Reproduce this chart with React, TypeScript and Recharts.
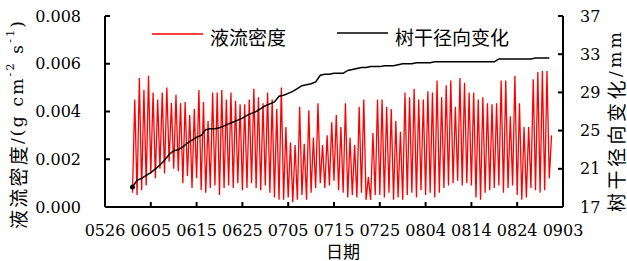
import { LineChart, Line, XAxis, YAxis, Legend } from "recharts";

// day 0 = 0526; the records begin on 0601
const firstDay = 6;

// daily peak of sap flow density (10^-3 g cm-2 s-1), 0601 -> 0831
const sapPeak = [
  4.5, 5.4, 4.9, 5.5, 4.8, 4.5, 4.8, 5.0, 4.35, 4.7,
  4.35, 4.4, 3.85, 4.1, 4.9, 4.4, 3.6, 4.8, 4.8, 4.9,
  4.5, 4.8, 4.45, 4.3, 4.3, 4.5, 4.95, 4.6, 4.35, 4.8,
  4.5, 4.1, 5.0, 3.35, 2.7, 2.6, 4.2, 2.65, 4.05, 2.9,
  4.35, 2.6, 3.0, 3.55, 3.85, 3.35, 4.35, 2.9, 2.6, 4.2,
  4.5, 1.25, 3.1, 4.5, 4.5, 4.2, 4.1, 3.6, 3.15, 4.8,
  4.6, 4.95, 4.5, 4.5, 4.85, 4.8, 5.3, 4.6, 5.1, 5.3,
  4.2, 5.4, 5.2, 4.8, 4.8, 4.5, 4.6, 4.35, 4.3, 4.35,
  5.3, 5.3, 3.8, 5.5, 4.35, 3.35, 3.35, 5.35, 5.65, 5.7,
  5.7, 3.0,
];

// night-time low of sap flow density (10^-3 g cm-2 s-1)
const sapLow = [
  0.6, 0.5, 0.7, 0.9, 1.4, 1.2, 1.6, 1.4, 1.9, 1.6,
  1.5, 1.0, 1.3, 0.8, 1.2, 0.7, 0.6, 0.8, 0.9, 0.5,
  0.8, 0.9, 0.8, 1.0, 0.7, 0.8, 1.0, 0.8, 0.7, 0.9,
  0.6, 0.4, 0.3, 0.3, 0.4, 0.2, 0.3, 0.5, 0.3, 0.6,
  0.8, 1.0, 0.8, 0.9, 1.1, 0.7, 0.6, 0.4, 0.5, 0.4,
  0.6, 0.3, 0.3, 0.5, 0.5, 0.4, 0.6, 0.3, 0.4, 0.3,
  0.5, 0.6, 0.4, 0.7, 0.5, 0.6, 0.4, 0.6, 0.8, 0.9,
  1.0, 1.1, 0.9, 1.0, 0.9, 0.4, 0.3, 0.6, 0.7, 0.8,
  0.9, 0.6, 0.8, 0.9, 0.5, 0.3, 0.4, 0.8, 0.7, 0.6,
  0.7, 1.2,
];

// stem radial change (mm), one value per day
const stemChange = [
  19.1, 19.8, 20.0, 20.3, 20.6, 21.0, 21.4, 21.9, 22.5, 22.9,
  23.0, 23.3, 23.7, 24.0, 24.3, 24.5, 25.1, 25.2, 25.2, 25.3,
  25.5, 25.7, 25.9, 26.1, 26.3, 26.6, 26.8, 27.0, 27.3, 27.6,
  27.8, 28.0, 28.6, 28.7, 28.9, 29.1, 29.4, 29.7, 29.8, 29.9,
  30.1, 30.8, 30.9, 30.9, 31.0, 31.0, 31.0, 31.3, 31.4, 31.5,
  31.6, 31.6, 31.7, 31.7, 31.7, 31.8, 31.8, 31.8, 31.9, 32.0,
  32.0, 32.0, 32.1, 32.1, 32.1, 32.1, 32.2, 32.2, 32.2, 32.2,
  32.2, 32.2, 32.2, 32.2, 32.2, 32.2, 32.2, 32.2, 32.2, 32.2,
  32.5, 32.5, 32.5, 32.5, 32.5, 32.5, 32.5, 32.5, 32.6, 32.6,
  32.6, 32.6,
];

const xTicks = [0, 10, 20, 30, 40, 50, 60, 70, 80, 90, 100];
const xTickLabels = ["0526", "0605", "0615", "0625", "0705", "0715", "0725", "0804", "0814", "0824", "0903"];
const sapTicks = [0, 0.002, 0.004, 0.006, 0.008];
const stemTicks = [17, 21, 25, 29, 33, 37];

const sapData = sapPeak.flatMap((p, i) => [
  { day: firstDay + i, sap: sapLow[i] / 1000 },
  { day: firstDay + i + 0.5, sap: p / 1000 },
]);
const stemData = stemChange.map((v, i) => ({ day: firstDay + i, stem: v }));

// only the plain family name resolves to a serif face in the sandbox
const serif = "DejaVu Serif";
const cjk = "Noto Sans CJK SC";
const axisStyle = { stroke: "#000", strokeWidth: 2 };

// custom tick so the serif face is set directly on the <text>
const SerifTick = ({ x, y, payload, anchor, fmt }: any) => (
  <text
    x={x}
    y={y}
    textAnchor={anchor}
    dominantBaseline={anchor === "middle" ? "auto" : "central"}
    fontSize={16}
    fill="#000"
    fontFamily={serif}
    style={{ fontFamily: serif }}
  >
    {fmt ? fmt(payload.value) : payload.value}
  </text>
);

const SapTitle = () => (
  <text
    transform="translate(17,125) rotate(-90)"
    textAnchor="middle"
    dominantBaseline="central"
    fontSize={17}
    fill="#000"
    fontFamily={serif}
    style={{ fontFamily: serif }}
    textLength={208}
    lengthAdjust="spacing"
  >
    <tspan style={{ fontFamily: cjk }} fontSize={19}>液流密度</tspan>
    <tspan>/(g cm</tspan>
    <tspan fontSize={11} dy={-7}>-2</tspan>
    <tspan dy={7}>{"\u00a0s"}</tspan>
    <tspan fontSize={11} dy={-7}>-1</tspan>
    <tspan dy={7}>)</tspan>
  </text>
);

const StemTitle = () => (
  <text
    transform="translate(615,122) rotate(-90)"
    textAnchor="middle"
    dominantBaseline="central"
    fontSize={19}
    fill="#000"
    style={{ fontFamily: cjk }}
    textLength={180}
    lengthAdjust="spacing"
  >
    树干径向变化<tspan style={{ fontFamily: serif }} fontSize={17}>/mm</tspan>
  </text>
);

const DateTitle = () => (
  <text x={343} y={250} textAnchor="middle" dominantBaseline="central" fontSize={17} fill="#000" style={{ fontFamily: cjk }}>
    日期
  </text>
);

const LegendBox = () => (
  <svg width={627} height={60} style={{ display: "block" }}>
    <line x1={152} x2={203} y1={34} y2={34} stroke="#ff0000" strokeWidth={1.5} />
    <text x={210} y={36} dominantBaseline="central" fontSize={19} style={{ fontFamily: cjk }} fill="#000">液流密度</text>
    <line x1={337} x2={388} y1={33} y2={33} stroke="#000" strokeWidth={1.5} />
    <text x={395} y={36} dominantBaseline="central" fontSize={19} style={{ fontFamily: cjk }} fill="#000">树干径向变化</text>
  </svg>
);

export default function App() {
  return (
    <div style={{ position: "absolute", left: 0, top: 0, width: 627, height: 261, background: "#fff" }}>
      <LineChart width={627} height={261} margin={{ top: 16, right: 24, bottom: 24, left: 45 }}>
        <XAxis
          type="number"
          dataKey="day"
          domain={[0, 100]}
          ticks={xTicks}
          allowDataOverflow
          height={30}
          tickSize={-5}
          tickMargin={34}
          tick={<SerifTick anchor="middle" fmt={(v: number) => xTickLabels[xTicks.indexOf(v)]} />}
          axisLine={axisStyle}
          tickLine={axisStyle}
          label={{ content: () => <DateTitle /> }}
        />
        <YAxis
          yAxisId="sap"
          orientation="left"
          domain={[0, 0.008]}
          ticks={sapTicks}
          width={60}
          tickSize={-5}
          tickMargin={29}
          tick={<SerifTick anchor="end" fmt={(v: number) => v.toFixed(3)} />}
          axisLine={axisStyle}
          tickLine={axisStyle}
          label={{ content: () => <SapTitle /> }}
        />
        <YAxis
          yAxisId="stem"
          orientation="right"
          domain={[17, 37]}
          ticks={stemTicks}
          width={40}
          tickSize={-5}
          tickMargin={22}
          tick={<SerifTick anchor="start" />}
          axisLine={axisStyle}
          tickLine={axisStyle}
          label={{ content: () => <StemTitle /> }}
        />
        <Legend
          layout="horizontal"
          verticalAlign="middle"
          align="center"
          content={() => <LegendBox />}
          wrapperStyle={{ top: 0, left: 0, width: 627, height: 60 }}
        />
        <Line
          yAxisId="sap"
          data={sapData}
          dataKey="sap"
          type="linear"
          stroke="#ff0000"
          strokeWidth={1.3}
          dot={false}
          isAnimationActive={false}
        />
        <Line
          yAxisId="stem"
          data={stemData}
          dataKey="stem"
          type="linear"
          stroke="#000"
          strokeWidth={1.5}
          dot={(p: any) =>
            p.index === 0 ? <circle key="start" cx={p.cx} cy={p.cy} r={2.5} fill="#000" /> : <g key={p.index} />
          }
          isAnimationActive={false}
        />
      </LineChart>
    </div>
  );
}
